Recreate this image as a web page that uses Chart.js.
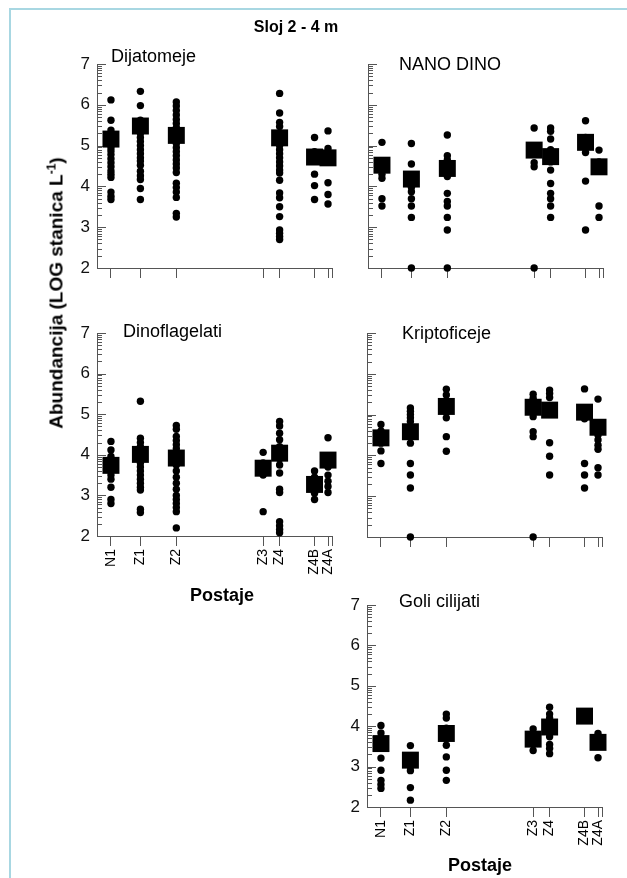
<!DOCTYPE html>
<html>
<head>
<meta charset="utf-8">
<title>Sloj 2 - 4 m</title>
<script src="https://cdn.jsdelivr.net/npm/chart.js@4.4.1/dist/chart.umd.min.js"></script>
<style>
  html, body { margin: 0; padding: 0; background: #fff; overflow: hidden; }
  body { width: 627px; height: 878px; position: relative; font-family: "Liberation Sans", Arial, sans-serif; }
  .okvir { position: absolute; left: 9px; top: 8px; width: 700px; height: 1000px;
           border-left: 2px solid #a8d7e2; border-top: 2px solid #a8d7e2; }
  canvas { position: absolute; left: 0; top: 0; }
  .txt { position: absolute; white-space: nowrap; color: #000; }
  .naslov { left: 296px; top: 19px; font-size: 16px; line-height: 16px; font-weight: bold; transform: translateX(-50%); }
  .ime { font-size: 18px; line-height: 18px; }
  .os { font-size: 18px; line-height: 18px; font-weight: bold; transform: translateX(-50%); }
  .ytitle { left: 56px; top: 293px; font-size: 19px; line-height: 19px; font-weight: bold;
            transform: translate(-50%, -50%) rotate(-90deg); }
  .ytitle sup { font-size: 12px; line-height: 0; }
</style>
</head>
<body>
<div class="okvir"></div>

<canvas id="c1" width="627" height="878"></canvas>
<canvas id="c2" width="627" height="878"></canvas>
<canvas id="c3" width="627" height="878"></canvas>
<canvas id="c4" width="627" height="878"></canvas>
<canvas id="c5" width="627" height="878"></canvas>

<div class="txt naslov">Sloj 2 - 4 m</div>
<div class="txt ytitle">Abundancija (LOG stanica L<sup>-1</sup>)</div>
<div class="txt ime" style="left:111px; top:47px;">Dijatomeje</div>
<div class="txt ime" style="left:399px; top:55px;">NANO DINO</div>
<div class="txt ime" style="left:123px; top:322px;">Dinoflagelati</div>
<div class="txt ime" style="left:402px; top:324px;">Kriptoficeje</div>
<div class="txt ime" style="left:399px; top:592px;">Goli cilijati</div>
<div class="txt os" style="left:222px; top:586px;">Postaje</div>
<div class="txt os" style="left:480px; top:856px;">Postaje</div>

<script>
// postaje i njihov položaj duž transekta
const postaje = ['N1', 'Z1', 'Z2', 'Z3', 'Z4', 'Z4B', 'Z4A'];
const postajeX = [14, 43.5, 79.5, 166.5, 183, 218, 231.5];
const xKraj = 235.5;
const yOznake = [2, 3, 4, 5, 6, 7];

// pojedinačni uzorci (log stanica/L) po postajama, redom kao postaje[]
const dijatomeje = [
  [6.12, 5.62, 5.38, 5.3, 5.22, 5.15, 5.05, 4.95, 4.87, 4.78, 4.68, 4.58, 4.48, 4.38, 4.3, 4.22, 3.86, 3.76, 3.68],
  [6.33, 5.98, 5.62, 5.55, 5.48, 5.4, 5.3, 5.2, 5.1, 5.0, 4.9, 4.8, 4.7, 4.62, 4.52, 4.37, 4.26, 4.17, 3.95, 3.68],
  [6.07, 5.97, 5.86, 5.75, 5.64, 5.54, 5.44, 5.34, 5.15, 5.05, 4.95, 4.85, 4.75, 4.65, 4.55, 4.45, 4.34, 4.08, 3.97, 3.86, 3.73, 3.34, 3.25],
  [],
  [6.28, 5.8, 5.57, 5.47, 5.0, 4.9, 4.8, 4.7, 4.6, 4.5, 4.4, 4.33, 4.15, 3.84, 3.72, 3.5, 3.26, 2.93, 2.85, 2.77, 2.7],
  [5.2, 4.85, 4.3, 4.02, 3.68],
  [5.36, 4.93, 4.09, 3.8, 3.57]
];
const dijatomejeSred = [5.16, 5.48, 5.25, null, 5.19, 4.72, 4.7];

const nanoDino = [
  [5.08, 4.6, 4.45, 4.3, 4.2, 3.7, 3.52],
  [5.05, 4.55, 4.25, 4.1, 3.98, 3.87, 3.7, 3.52, 3.24, 2.0],
  [5.26, 4.75, 4.65, 4.5, 4.38, 4.24, 3.83, 3.63, 3.52, 3.24, 2.93, 2.0],
  [5.43, 5.0, 4.8, 4.58, 4.48, 2.0],
  [5.43, 5.35, 5.16, 4.9, 4.75, 4.6, 4.4, 4.07, 3.83, 3.7, 3.52, 3.24],
  [5.61, 5.2, 5.0, 4.83, 4.13, 2.93],
  [4.89, 4.6, 4.4, 3.52, 3.24]
];
const nanoDinoSred = [4.52, 4.18, 4.44, 4.89, 4.73, 5.08, 4.48];

const dinoflagelati = [
  [4.33, 4.12, 3.96, 3.85, 3.7, 3.6, 3.5, 3.4, 3.2, 2.9, 2.8],
  [5.32, 4.41, 4.3, 4.2, 4.1, 3.9, 3.8, 3.7, 3.6, 3.5, 3.4, 3.3, 3.2, 3.13, 2.66, 2.58],
  [4.72, 4.63, 4.45, 4.35, 4.25, 4.15, 3.9, 3.75, 3.6, 3.45, 3.3, 3.15, 3.0, 2.9, 2.8, 2.7, 2.6, 2.2],
  [4.06, 3.8, 3.6, 3.5, 2.6],
  [4.82, 4.71, 4.53, 4.37, 4.2, 3.9, 3.75, 3.55, 3.15, 3.07, 2.35, 2.25, 2.16, 2.08],
  [3.6, 3.45, 3.15, 3.05, 2.9],
  [4.42, 3.7, 3.5, 3.35, 3.22, 3.07]
];
const dinoflagelatiSred = [3.74, 4.01, 3.92, 3.67, 4.04, 3.27, 3.87];

const kriptoficeje = [
  [4.76, 4.6, 4.3, 4.11, 3.8],
  [5.16, 5.08, 5.0, 4.92, 4.83, 4.7, 4.45, 4.3, 3.8, 3.52, 3.2, 2.0],
  [5.62, 5.48, 5.32, 5.2, 5.05, 4.92, 4.46, 4.1],
  [5.5, 5.4, 5.1, 4.95, 4.58, 4.46, 2.0],
  [5.6, 5.52, 5.42, 5.2, 4.31, 3.98, 3.52],
  [5.63, 4.9, 3.8, 3.52, 3.2],
  [5.38, 4.5, 4.38, 4.25, 4.15, 3.7, 3.52]
];
const kriptoficejeSred = [4.43, 4.58, 5.2, 5.18, 5.11, 5.06, 4.69];

const goliCilijati = [
  [4.02, 3.83, 3.7, 3.45, 3.21, 2.91, 2.66, 2.56, 2.46],
  [3.52, 3.0, 2.9, 2.48, 2.17],
  [4.3, 4.2, 3.95, 3.7, 3.53, 3.24, 2.91, 2.66],
  [3.93, 3.55, 3.4],
  [4.47, 4.3, 4.2, 3.74, 3.55, 3.45, 3.32],
  [4.28, 4.22],
  [3.82, 3.6, 3.22]
];
const goliCilijatiSred = [3.57, 3.16, 3.82, 3.68, 3.98, 4.25, 3.6];

const font = '"Liberation Sans", Arial, sans-serif';
const boja = '#555';

// sitne log crtice s unutarnje strane y osi
const logCrtice = {
  id: 'logCrtice',
  beforeDatasetsDraw(chart) {
    const y = chart.scales.y;
    const left = chart.chartArea.left;
    const ctx = chart.ctx;
    ctx.save();
    ctx.strokeStyle = boja;
    ctx.lineWidth = 1;
    ctx.beginPath();
    for (let n = 2; n <= 7; n++) {
      const py = Math.round(y.getPixelForValue(n)) + 0.5;
      ctx.moveTo(left, py);
      ctx.lineTo(left + 9, py);
      if (n === 7) continue;
      for (let k = 2; k <= 9; k++) {
        const p = Math.round(y.getPixelForValue(n + Math.log10(k))) + 0.5;
        ctx.moveTo(left, p);
        ctx.lineTo(left + 5, p);
      }
    }
    ctx.stroke();
    ctx.restore();
  }
};

function tocke(uzorci) {
  const out = [];
  uzorci.forEach((vrij, i) => vrij.forEach(v => out.push({ x: postajeX[i], y: v })));
  return out;
}

function srednje(sred) {
  const out = [];
  sred.forEach((v, i) => { if (v !== null) out.push({ x: postajeX[i], y: v }); });
  return out;
}

// box = rub područja crtanja u pikselima stranice
function panel(id, box, uzorci, sred, showY, showX) {
  const yW = 60, xH = 60;
  new Chart(document.getElementById(id), {
    type: 'scatter',
    data: {
      datasets: [
        { data: tocke(uzorci), pointStyle: 'circle', pointRadius: 3.7, pointHoverRadius: 3.7,
          backgroundColor: '#000', borderWidth: 0, clip: false },
        { data: srednje(sred), pointStyle: 'rect', pointRadius: 12, pointHoverRadius: 12,
          backgroundColor: '#000', borderWidth: 0, clip: false }
      ]
    },
    options: {
      responsive: false,
      animation: false,
      events: [],
      layout: {
        autoPadding: false,
        padding: { left: box.l - yW, top: box.t, right: 627 - box.r, bottom: 878 - box.b - xH }
      },
      plugins: { legend: { display: false }, tooltip: { enabled: false } },
      scales: {
        x: {
          type: 'linear', min: 0, max: xKraj,
          afterBuildTicks: s => { s.ticks = postajeX.concat([xKraj]).map(v => ({ value: v })); },
          afterFit: s => { s.height = xH; },
          grid: { display: true, drawOnChartArea: false, drawTicks: true, tickLength: 10, color: boja, lineWidth: 1 },
          border: { display: true, color: boja, width: 1 },
          ticks: {
            display: showX, autoSkip: false, minRotation: 90, maxRotation: 90, padding: 3,
            color: '#000', font: { family: font, size: 14 },
            callback: (v, i) => postaje[i] || ''
          }
        },
        y: {
          type: 'linear', min: 2, max: 7,
          afterBuildTicks: s => { s.ticks = yOznake.map(v => ({ value: v })); },
          afterFit: s => { s.width = yW; },
          grid: { display: false, drawTicks: false },
          border: { display: true, color: boja, width: 1 },
          ticks: { display: showY, padding: 7, color: '#111', font: { family: font, size: 17 } }
        }
      }
    },
    plugins: [logCrtice]
  });
}

panel('c1', { l: 97, t: 64, r: 332, b: 268 }, dijatomeje, dijatomejeSred, true, false);
panel('c2', { l: 368, t: 64, r: 603, b: 268 }, nanoDino, nanoDinoSred, false, false);
panel('c3', { l: 97, t: 333, r: 332, b: 536 }, dinoflagelati, dinoflagelatiSred, true, true);
panel('c4', { l: 367, t: 333, r: 602, b: 537 }, kriptoficeje, kriptoficejeSred, false, false);
panel('c5', { l: 367, t: 605, r: 602, b: 807 }, goliCilijati, goliCilijatiSred, true, true);
</script>
</body>
</html>
